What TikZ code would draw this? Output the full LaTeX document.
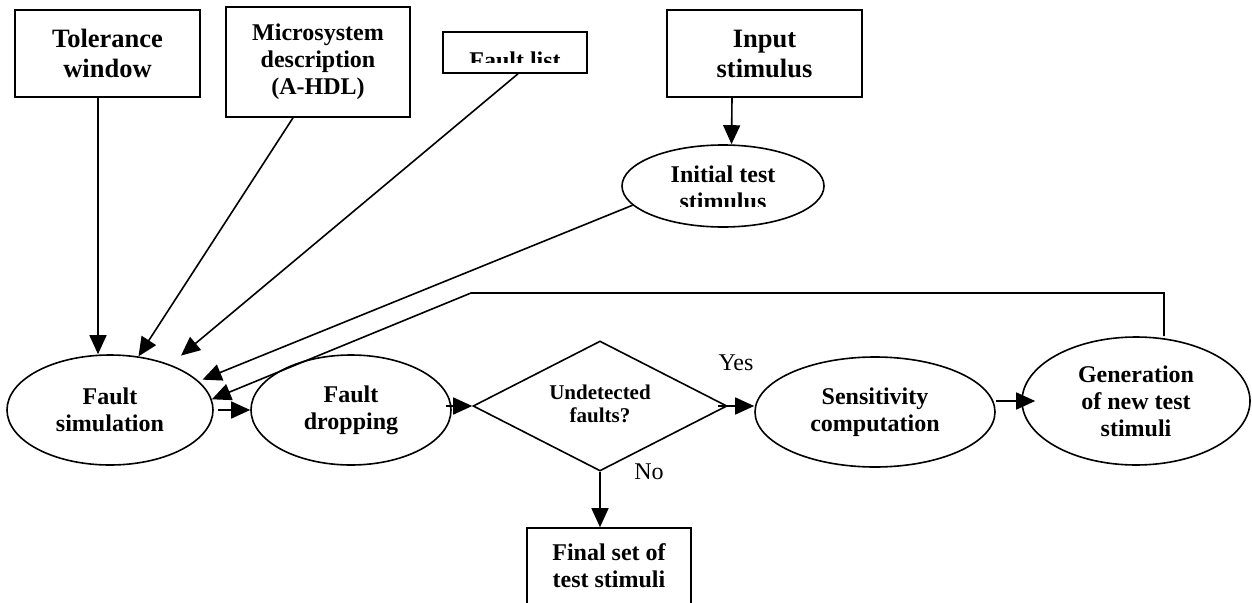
\documentclass[tikz,border=0pt]{standalone}
\usepackage{fontspec}
\setmainfont{Liberation Serif}
\usetikzlibrary{arrows.meta,shapes.geometric}
\begin{document}
\begin{tikzpicture}[x=1pt,y=-1pt,
  line width=1.6pt,
  bf/.style={font=\fontsize{24}{27}\selectfont\bfseries, align=center, inner sep=0pt},
  bigbf/.style={font=\fontsize{26.5}{30}\selectfont\bfseries},
  box/.style={draw, rectangle, inner sep=0pt, bf},
  oval/.style={draw, ellipse, inner sep=0pt, bf},
  lbl/.style={font=\fontsize{24}{27}\selectfont, inner sep=0pt},
  arr/.style={-{Triangle[length=19pt,width=17pt]}},
  ]
\useasboundingbox (0,0) rectangle (1252,602);

% top boxes
\node[box, bigbf, minimum width=185pt, minimum height=87pt] (tol) at (107.5,53.5) {Tolerance\\window};
\node[box, minimum width=184pt, minimum height=110pt] (micro) at (318,62) {Microsystem\\description\\(A-HDL)};
\node[box, minimum width=144pt, minimum height=41pt] (flist) at (515,52.5) {};
\begin{scope}
  \clip (443,32) rectangle (587,63);
  \node[bf, anchor=base] (flisttext) at (515,68) {Fault list};
\end{scope}
\node[box, bigbf, minimum width=195pt, minimum height=87pt] (input) at (764.5,53.5) {Input\\stimulus};

% initial test stimulus
\node[oval, minimum width=202pt, minimum height=82pt] (init) at (723,186) {};
\begin{scope}
  \clip (600,140) rectangle (850,206);
  \node[bf] (inittext) at (723,187.4) {Initial test\\stimulus};
\end{scope}

% main flow
\node[oval, minimum width=206pt, minimum height=110pt] (fsim) at (110,410) {Fault\\simulation};
\node[oval, minimum width=200pt, minimum height=110pt] (fdrop) at (351,410) {Fault\\dropping};
\node[draw, diamond, inner sep=0pt, minimum width=254pt, minimum height=130pt] (dec) at (600,406) {};
\node[font=\fontsize{21}{23.5}\selectfont\bfseries, align=center, inner sep=0pt] (dectext) at (600,404) {Undetected\\faults?};
\node[oval, minimum width=240pt, minimum height=110pt] (sens) at (875,412) {Sensitivity\\computation};
\node[oval, minimum width=228pt, minimum height=128pt] (gen) at (1136,401) {Generation\\of new test\\stimuli};
\node[box, minimum width=164pt, minimum height=76pt] (final) at (609,566) {Final set of\\test stimuli};

\node[lbl] (yes) at (736,363) {Yes};
\node[lbl] (no) at (649,472) {No};

\coordinate (fb) at (471,293);

% connectors
\draw[arr] ([xshift=-9.5pt]tol.south) -- ([xshift=-9.5pt]tol.south |- fsim.north);
\draw[arr] ([xshift=-25pt]micro.south) -- (fsim.62);
\draw[arr, shorten >=14pt] ([xshift=3pt]flist.south) -- (fsim.37);
\draw[arr, shorten >=4pt] (init.192) -- (fsim.18);
\draw[arr] ([xshift=28pt]gen.north) |- (fb) -- (fsim.6);
\draw[arr] ([xshift=-32.5pt]input.south) -- ([xshift=8.5pt]init.north);

\draw[arr] ([xshift=4pt]fsim.east) -- (fdrop.west);
\draw[arr] ([xshift=-6pt,yshift=4pt]fdrop.east) -- (dec.west);
\draw[arr] ([xshift=-10pt]dec.east) -- (sens.west |- dec.east);
\draw[arr] (sens.east |- gen.west) -- ([xshift=14pt]gen.west);
\draw[arr] (dec.south) -- (dec.south |- final.north);
\end{tikzpicture}
\end{document}
